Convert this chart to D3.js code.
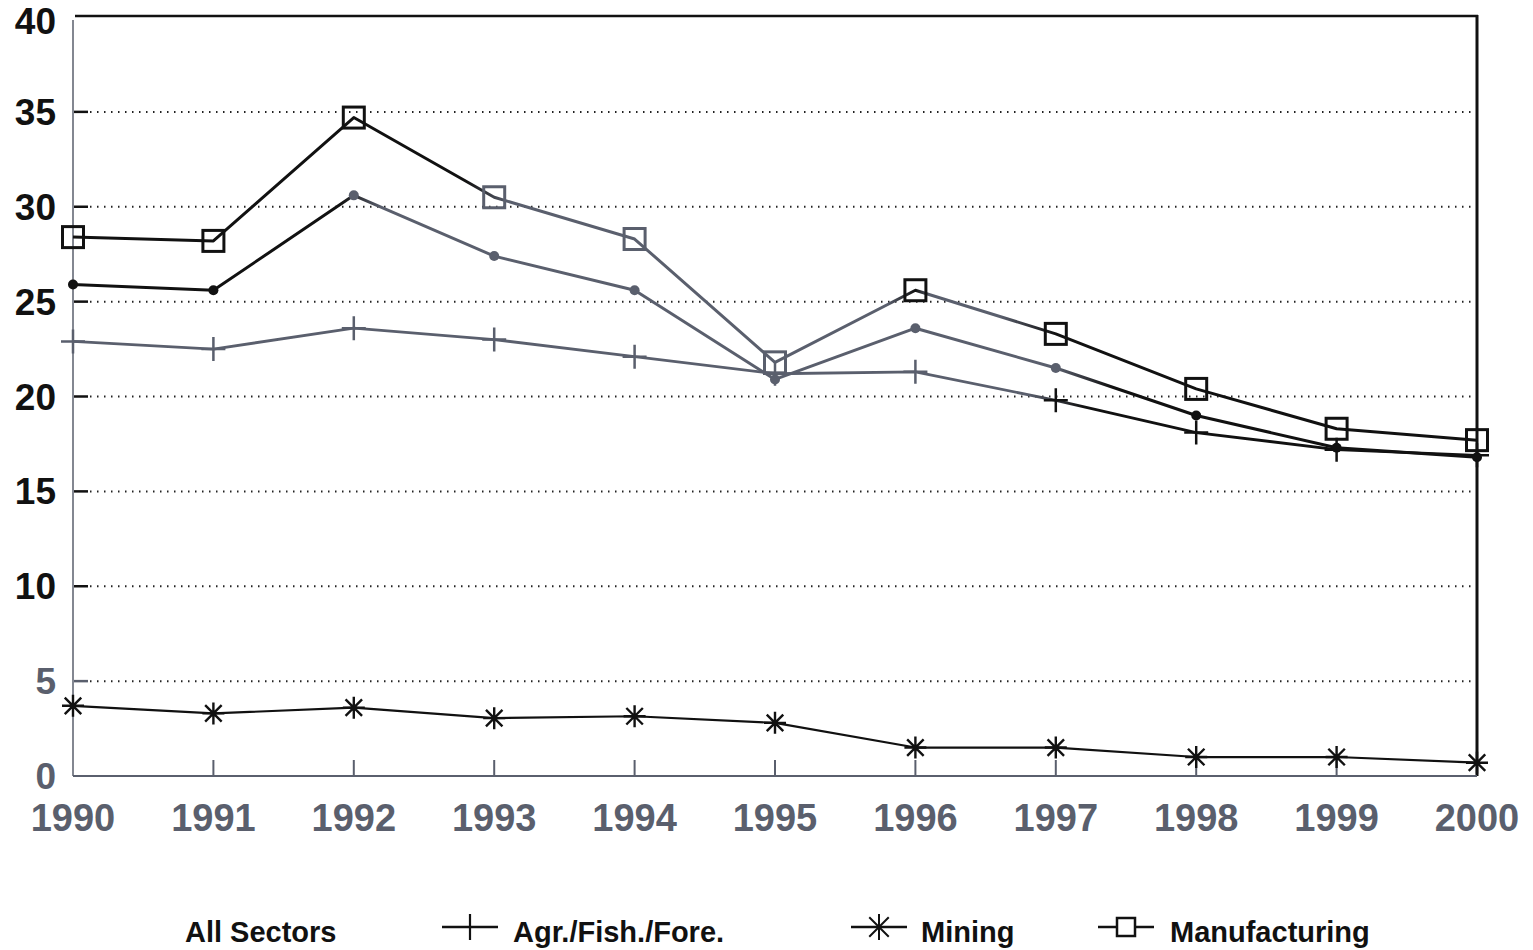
<!DOCTYPE html>
<html><head><meta charset="utf-8">
<script src="https://cdn.jsdelivr.net/npm/d3@7"></script>
<style>
html,body{margin:0;padding:0;background:#fff;}
svg{display:block;}
</style></head>
<body>
<svg id="chart" width="1533" height="950"></svg>
<script>
const years = [1990,1991,1992,1993,1994,1995,1996,1997,1998,1999,2000];
const allSectors = [25.9,25.6,30.6,27.4,25.6,20.9,23.6,21.5,19.0,17.3,16.8];
const agrFishFore = [22.9,22.5,23.6,23.0,22.1,21.2,21.3,19.8,18.1,17.2,16.9];
const mining = [3.7,3.3,3.6,3.05,3.15,2.8,1.5,1.5,1.0,1.0,0.7];
const manufacturing = [28.4,28.2,34.7,30.5,28.3,21.8,25.6,23.3,20.4,18.3,17.7];
const yTicks = [0,5,10,15,20,25,30,35,40];
const legendLabels = ["All Sectors","Agr./Fish./Fore.","Mining","Manufacturing"];

const BLACK = "#111", GRAY = "#5a5f6d";
const svg = d3.select("#chart");
const x = d3.scaleLinear().domain([1990,2000]).range([73,1477]);
const y = d3.scaleLinear().domain([0,40]).range([776,17]);
const font = "'Liberation Sans', Arial, Helvetica, sans-serif";

const defs = svg.append("defs");
function grad(id, stops){
  const g = defs.append("linearGradient").attr("id",id)
    .attr("gradientUnits","userSpaceOnUse")
    .attr("x1",x(1990)).attr("x2",x(2000)).attr("y1",0).attr("y2",0);
  stops.forEach(s=>g.append("stop").attr("offset",s[0]).attr("stop-color",s[1]));
}
grad("gManu",[[0,BLACK],[0.28,BLACK],[0.31,GRAY],[0.58,GRAY],[0.6,BLACK],[0.61,GRAY],[0.66,GRAY],[0.7,BLACK],[1,BLACK]]);
grad("gAll",[[0,BLACK],[0.19,BLACK],[0.22,GRAY],[0.7,GRAY],[0.74,BLACK],[1,BLACK]]);
grad("gAgr",[[0,GRAY],[0.68,GRAY],[0.72,BLACK],[1,BLACK]]);

// grid lines (dotted)
svg.append("g").selectAll("line").data(yTicks.filter(t=>t>0 && t<40)).join("line")
  .attr("x1",90).attr("x2",1472)
  .attr("y1",d=>y(d)).attr("y2",d=>y(d))
  .attr("stroke","#222").attr("stroke-width",2).attr("stroke-dasharray","1.5,5.5");

// y tick dashes
svg.append("g").selectAll("line").data(yTicks.filter(t=>t>0 && t<40)).join("line")
  .attr("x1",74).attr("x2",88)
  .attr("y1",d=>y(d)).attr("y2",d=>y(d))
  .attr("stroke",d=>d<=5?GRAY:BLACK).attr("stroke-width",2.5);

// frame
svg.append("line").attr("x1",75).attr("x2",1478).attr("y1",y(40)-1).attr("y2",y(40)-1)
  .attr("stroke",BLACK).attr("stroke-width",2.5);
svg.append("line").attr("x1",1477).attr("x2",1477).attr("y1",y(40)-2).attr("y2",y(0))
  .attr("stroke",BLACK).attr("stroke-width",3);
svg.append("line").attr("x1",73).attr("x2",73).attr("y1",y(40)+3).attr("y2",y(0))
  .attr("stroke",GRAY).attr("stroke-width",1.5);
svg.append("line").attr("x1",73).attr("x2",1477).attr("y1",y(0)).attr("y2",y(0))
  .attr("stroke",GRAY).attr("stroke-width",2);

// x ticks
svg.append("g").selectAll("line").data(years.slice(1,-1)).join("line")
  .attr("x1",d=>x(d)).attr("x2",d=>x(d))
  .attr("y1",y(0)-16).attr("y2",y(0))
  .attr("stroke",GRAY).attr("stroke-width",2);

// y labels
svg.append("g").selectAll("text").data(yTicks).join("text")
  .attr("x",56).attr("y",d=>Math.max(y(d)+13,34))
  .attr("text-anchor","end")
  .attr("font-family",font).attr("font-weight","bold").attr("font-size",37)
  .attr("fill",d=>d<=5?GRAY:BLACK)
  .text(d=>d);

// x labels
svg.append("g").selectAll("text").data(years).join("text")
  .attr("x",d=>x(d)).attr("y",831)
  .attr("text-anchor","middle")
  .attr("font-family",font).attr("font-weight","bold").attr("font-size",38)
  .attr("fill",GRAY)
  .text(d=>d);

const line = d3.line().x((d,i)=>x(years[i])).y(d=>y(d));

function drawLine(data, stroke, w){
  svg.append("path").datum(data).attr("d",line)
    .attr("fill","none").attr("stroke",stroke).attr("stroke-width",w)
    .attr("stroke-linejoin","round");
}
drawLine(mining, BLACK, 2.2);
drawLine(agrFishFore, "url(#gAgr)", 2.8);
drawLine(allSectors, "url(#gAll)", 3);
drawLine(manufacturing, "url(#gManu)", 3);

function plusPath(s){return `M${-s},0H${s}M0,${-s}V${s}`;}
function starPath(s){const d=s*0.75;return `M${-s},0H${s}M0,${-s}V${s}M${-d},${-d}L${d},${d}M${-d},${d}L${d},${-d}`;}

function colorAt(xp, stops){
  const t=(xp-x(1990))/(x(2000)-x(1990));
  let c=stops[0][1];
  for(const s of stops){ if(t>=s[0]) c=s[1]; }
  return c;
}
const manuStops=[[0,BLACK],[0.29,GRAY],[0.55,BLACK],[0.65,GRAY],[0.7,BLACK]];
const allStops=[[0,BLACK],[0.2,GRAY],[0.72,BLACK]];
const agrStops=[[0,GRAY],[0.7,BLACK]];

svg.append("g").selectAll("path").data(agrFishFore).join("path")
  .attr("transform",(d,i)=>`translate(${x(years[i])},${y(d)})`)
  .attr("d",plusPath(12)).attr("fill","none")
  .attr("stroke",(d,i)=>colorAt(x(years[i]),agrStops)).attr("stroke-width",2.5);

svg.append("g").selectAll("path").data(mining).join("path")
  .attr("transform",(d,i)=>`translate(${x(years[i])},${y(d)})`)
  .attr("d",starPath(11)).attr("fill","none")
  .attr("stroke",BLACK).attr("stroke-width",2.4);

svg.append("g").selectAll("circle").data(allSectors).join("circle")
  .attr("cx",(d,i)=>x(years[i])).attr("cy",d=>y(d)).attr("r",5)
  .attr("fill",(d,i)=>colorAt(x(years[i]),allStops));

svg.append("g").selectAll("rect").data(manufacturing).join("rect")
  .attr("x",(d,i)=>x(years[i])-10.5).attr("y",d=>y(d)-10.5)
  .attr("width",21).attr("height",21)
  .attr("fill","none")
  .attr("stroke",(d,i)=>colorAt(x(years[i]),manuStops)).attr("stroke-width",3);

// legend
const legendFont = "'Liberation Sans Narrow','Arial Narrow','Liberation Sans',sans-serif";
const legendItems = [
  {label:legendLabels[0], tx:185, marker:null},
  {label:legendLabels[1], tx:513, mx:470, marker:"plus"},
  {label:legendLabels[2], tx:921, mx:879, marker:"star"},
  {label:legendLabels[3], tx:1170, mx:1126, marker:"square"}
];
const lg = svg.append("g");
legendItems.forEach(it=>{
  if(it.marker){
    lg.append("line").attr("x1",it.mx-28).attr("x2",it.mx+28).attr("y1",927).attr("y2",927)
      .attr("stroke",BLACK).attr("stroke-width",2.5);
    if(it.marker==="plus") lg.append("path").attr("transform",`translate(${it.mx},927)`)
      .attr("d",plusPath(13)).attr("stroke",BLACK).attr("stroke-width",2.2).attr("fill","none");
    if(it.marker==="star") lg.append("path").attr("transform",`translate(${it.mx},927)`)
      .attr("d",starPath(13)).attr("stroke",BLACK).attr("stroke-width",2).attr("fill","none");
    if(it.marker==="square") lg.append("rect").attr("x",it.mx-9).attr("y",918).attr("width",18).attr("height",18)
      .attr("stroke",BLACK).attr("stroke-width",2.5).attr("fill","#fff");
  }
  lg.append("text").attr("x",it.tx).attr("y",942)
    .attr("font-family",legendFont).attr("font-weight","bold").attr("font-size",29)
    .attr("fill",BLACK).text(it.label);
});
</script>
</body></html>
